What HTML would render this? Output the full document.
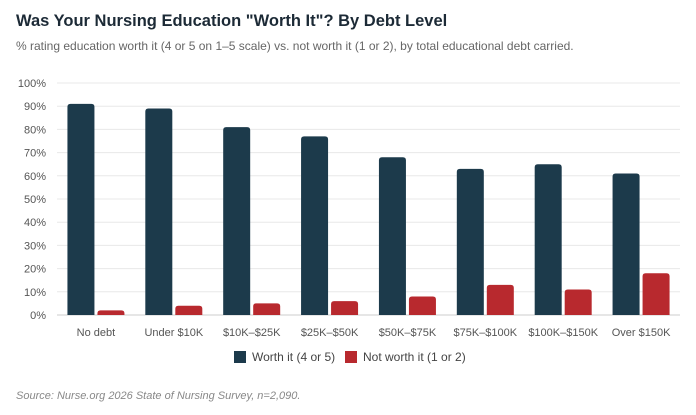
<!DOCTYPE html>
<html><head><meta charset="utf-8"><style>
body{margin:0;background:#fff;width:696px;height:410px;overflow:hidden;font-family:"Liberation Sans",sans-serif}
</style></head><body>
<svg width="696" height="410" xmlns="http://www.w3.org/2000/svg">
<text x="16" y="26" font-size="16.5" font-weight="bold" fill="#1c2a36">Was Your Nursing Education "Worth It"? By Debt Level</text>
<text x="16" y="50" font-size="12" fill="#666">% rating education worth it (4 or 5 on 1–5 scale) vs. not worth it (1 or 2), by total educational debt carried.</text>
<g id="grid"></g><g id="bars"></g><g id="xlabels"></g>
<rect x="234" y="351" width="12" height="12" fill="#1c3a4b"/>
<text x="252" y="361" font-size="12" fill="#444">Worth it (4 or 5)</text>
<rect x="345" y="351" width="12" height="12" fill="#b8292e"/>
<text x="363" y="361" font-size="12" fill="#444">Not worth it (1 or 2)</text>
<text x="16" y="399" font-size="11" font-style="italic" fill="#888">Source: Nurse.org 2026 State of Nursing Survey, n=2,090.</text>
</svg>
<script>
const categories=["No debt","Under $10K","$10K–$25K","$25K–$50K","$50K–$75K","$75K–$100K","$100K–$150K","Over $150K"];
const worthIt=[91,89,81,77,68,63,65,61];
const notWorth=[2,4,5,6,8,13,11,18];
const yTicks=[0,10,20,30,40,50,60,70,80,90,100];
const NS="http://www.w3.org/2000/svg";
const x0=57,x1=680,yb=315,yt=83;
const y=v=>yb-(v/100)*(yb-yt);
const bw=(x1-x0)/categories.length;
const cx=i=>x0+bw*(i+0.5);
function mk(t,a,p){const e=document.createElementNS(NS,t);for(const k in a)e.setAttribute(k,a[k]);p.appendChild(e);return e;}
const grid=document.getElementById('grid');
yTicks.forEach(t=>{
 const l=mk('line',{x1:x0,x2:x1,y1:y(t),y2:y(t),stroke:t===0?'#ccc':'#e8e8e8','stroke-width':1},grid);
 
 
 const tx=mk('text',{x:46,y:y(t)+4,'font-size':11,fill:'#555','text-anchor':'end'},grid);
 tx.textContent=t+'%';
 
 
});
const bars=document.getElementById('bars'),xl=document.getElementById('xlabels');
const w=27,g=3;
function rbar(x,v,fill){
 const top=y(v),h=yb-top,r=Math.min(3,h);
 return mk('path',{d:`M${x},${yb}V${top+r}Q${x},${top} ${x+r},${top}H${x+w-r}Q${x+w},${top} ${x+w},${top+r}V${yb}Z`,fill:fill},bars);
}
categories.forEach((c,i)=>{
 const b1=rbar(cx(i)-g/2-w,worthIt[i],'#1c3a4b');
 
 
 const b2=rbar(cx(i)+g/2,notWorth[i],'#b8292e');
 
 
 const t=mk('text',{x:cx(i),y:336,'font-size':11,fill:'#555','text-anchor':'middle'},xl);
 t.textContent=c;
 
 
});
</script>
</body></html>
